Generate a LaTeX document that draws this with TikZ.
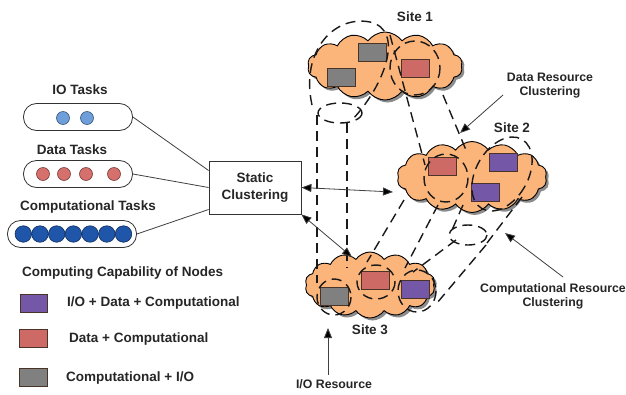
\documentclass[tikz,border=0pt]{standalone}
\usepackage{fontspec}
\setmainfont{Liberation Sans}
\usetikzlibrary{shapes.symbols,shadows,arrows.meta,calc}
\definecolor{cloudc}{HTML}{FBB47A}
\definecolor{grayc}{HTML}{808080}
\definecolor{redc}{HTML}{CD6A66}
\definecolor{purc}{HTML}{7457A6}
\definecolor{lbluec}{HTML}{6E9FDB}
\definecolor{reddot}{HTML}{D6706C}
\definecolor{dbluec}{HTML}{1F56AA}
\definecolor{rimc}{HTML}{4A3428}
\begin{document}
\begin{tikzpicture}[x=1pt,y=-1pt,
 lbl/.style={font=\bfseries\fontsize{13.5}{17}\selectfont, text=black!85, inner sep=0},
 ann/.style={font=\bfseries\fontsize{12.3}{14}\selectfont, text=black!85, align=center, inner sep=0},
 pill/.style={draw=black!80, line width=0.8pt, rounded corners=13pt, minimum width=109pt, minimum height=27pt},
 taskdot/.style={circle, draw=#1!55!black, fill=#1, minimum size=13pt, inner sep=0, line width=0.6pt},
 srv/.style={rectangle, draw=rimc, fill=#1, minimum width=28pt, minimum height=18pt, inner sep=0, line width=0.9pt},
 site/.style={cloud, cloud puffs=14, cloud puff arc=110, cloud ignores aspect, draw=black, line width=0.9pt, fill=cloudc, drop shadow={shadow xshift=2.5pt, shadow yshift=-2.5pt, fill=black!45, opacity=1}, inner sep=0},
 dsh/.style={line width=1.4pt, dash pattern=on 10pt off 6pt, black!90},
 conn/.style={draw=black!75, line width=0.8pt},
 arr/.style={conn, -{Triangle[length=10pt,width=8pt,fill=black]}},
 darr/.style={conn, {Triangle[length=10pt,width=8pt,fill=black]}-{Triangle[length=10pt,width=8pt,fill=black]}},
]
\useasboundingbox[fill=white] (0,0) rectangle (626,394);

% ---- task groups
\node[lbl] (iot) at (80,90) {IO Tasks};
\node[pill] (iop) at (78,117) {};
\node[taskdot=lbluec] (io1) at (63,118) {};
\node[taskdot=lbluec] (io2) at (87,118) {};

\node[lbl] (dtt) at (72,150) {Data Tasks};
\node[pill] (dp) at (78,174) {};
\foreach \x [count=\i] in {43,64,86,114} \node[taskdot=reddot] (d\i) at (\x,174) {};

\node[lbl] (ctt) at (88,207) {Computational Tasks};
\node[pill, minimum width=129pt] (cp) at (72,234) {};
\foreach \i in {0,...,6} \node[taskdot=dbluec, minimum size=16.5pt] (c\i) at (23.3+16.7*\i,234) {};

% ---- static clustering
\node[draw=black!80, line width=0.8pt, minimum width=92pt, minimum height=53pt, align=center, lbl] (sc) at (255,187.5) {Static\\Clustering};

\draw[conn] (iop.east) -- ([yshift=17pt]sc.west);
\draw[conn] (dp.east) -- (sc.west);
\draw[conn] (cp.east) -- ([yshift=-22pt]sc.west);

% ---- sites
\node[site, minimum width=155pt, minimum height=68pt] (s1) at (385,66) {};
\node[site, minimum width=150pt, minimum height=71pt] (s2) at (472,177) {};
\node[site, minimum width=130pt, minimum height=66pt] (s3) at (370,285) {};

\node[srv=grayc] (s1g1) at (372,52) {};
\node[srv=grayc] (s1g2) at (341,77.5) {};
\node[srv=redc] (s1r) at (415.5,68) {};
\node[srv=redc] (s2r) at (442,166) {};
\node[srv=purc] (s2p1) at (503.5,162) {};
\node[srv=purc] (s2p2) at (485.5,192.5) {};
\node[srv=grayc] (s3g) at (334,296) {};
\node[srv=redc] (s3r) at (375.5,280) {};
\node[srv=purc] (s3p) at (415.5,289.5) {};

\node[lbl] (l1) at (415,17) {Site 1};
\node[lbl] (l2) at (512,128) {Site 2};
\node[lbl] (l3) at (370,330) {Site 3};

% ---- I/O resource tube
\draw[dsh] (312,105) .. controls (300,50) and (335,15) .. (370,22) .. controls (405,30) and (385,85) .. (352,120);
\draw[dsh] (340,113) ellipse [x radius=22, y radius=10];
\draw[dsh] (317,115) -- (317,283);
\draw[dsh] (347,123) -- (347,268);
\draw[dsh] (334,297) ellipse [x radius=17, y radius=18];

% ---- data resource tube
\draw[dsh] (415,68) ellipse [x radius=25, y radius=27];
\draw[dsh] (390,35) -- (425,165);
\draw[dsh] (443,95) -- (466,150);
\draw[dsh] (446,178) ellipse [x radius=22, y radius=24];
\draw[dsh] (404,200) -- (367,262);
\draw[dsh] (438,205) -- (405,268);
\draw[dsh] (376,282) ellipse [x radius=19, y radius=17];

% ---- computational resource tube
\draw[dsh, rotate around={-30:(502,174)}] (502,174) ellipse [x radius=26, y radius=40];
\draw[dsh] (463,205) -- (452,230);
\draw[dsh] (522,197) -- (487,243);
\draw[dsh] (468,235) ellipse [x radius=19, y radius=10];
\draw[dsh] (456,240) -- (413,272);
\draw[dsh] (486,245) -- (437,303);
\draw[dsh] (417,291) ellipse [x radius=19, y radius=21];

% ---- arrows
\coordinate (s2in) at (393,192);
\coordinate (s3in) at (352,257);
\draw[darr] (sc.east) -- (s2in);
\draw[darr] (sc.south east) -- (s3in);

\node[ann] (drl) at (550,86) {Data Resource\\Clustering};
\node[ann] (crl) at (553,296) {Computational Resource\\Clustering};
\node[ann] (iol) at (334,384) {I/O Resource};
\coordinate (drs) at (503,95);
\coordinate (drt) at (460,133);
\coordinate (crs) at (563,277);
\coordinate (crt) at (505,233);
\coordinate (ios) at (328,375);
\coordinate (iot2) at (328,328);
\draw[arr] (drs) -- (drt);
\draw[arr] (crs) -- (crt);
\draw[arr] (ios) -- (iot2);

% ---- legend
\node[lbl, anchor=west] (cch) at (22,273) {Computing Capability of Nodes};
\node[srv=purc, minimum width=27pt] (lg1) at (33.5,303) {};
\node[lbl, anchor=west] (lt1) at (67,303) {I/O + Data + Computational};
\node[srv=redc] (lg2) at (33,338.5) {};
\node[lbl, anchor=west] (lt2) at (69,339) {Data + Computational};
\node[srv=grayc] (lg3) at (33,377.5) {};
\node[lbl, anchor=west] (lt3) at (66,378) {Computational + I/O};
\end{tikzpicture}
\end{document}
